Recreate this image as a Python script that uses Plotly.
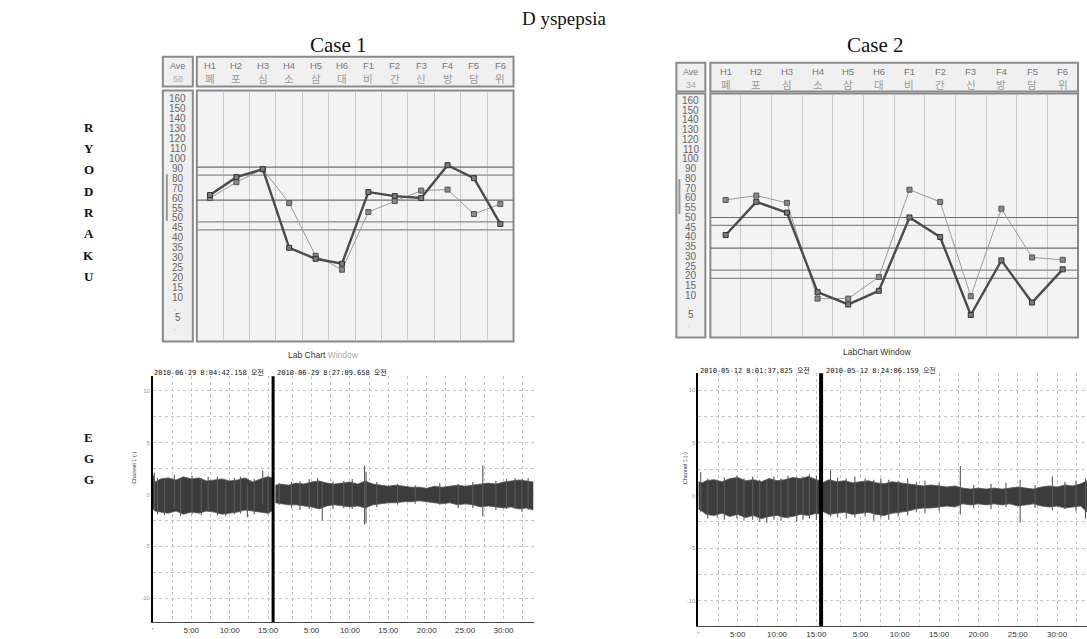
import numpy as np
import plotly.graph_objects as go

W, H = 1087, 639

# ---------------- data ----------------
MERIDIANS = ["H1", "H2", "H3", "H4", "H5", "H6", "F1", "F2", "F3", "F4", "F5", "F6"]
KOREAN = ["폐", "포", "심", "소", "삼", "대", "비", "간", "신", "방", "담", "위"]
SCALE_LABELS = [160, 150, 140, 130, 120, 110, 100, 90, 80, 70, 60, 55, 50, 45, 40, 35, 30, 25, 20, 15, 10, 5]
SCALE_POS = list(range(21)) + [22]

case1_ave = "58"
case1_dark = [63, 81, 89, 35, 29.5, 27, 66, 62, 60, 93, 80, 47]
case1_light = [60, 76, 89, 57.5, 31, 24, 53, 58.5, 67.5, 68.5, 52, 57]
case1_bands = [91, 83, 59, 48, 44]

case2_ave = "34"
case2_dark = [41, 58, 52.5, 11.7, 7.7, 12.4, 50, 40, 5, 28, 8.2, 23.4]
case2_light = [59, 62.5, 57.5, 9.2, 9.2, 19.5, 68.5, 58, 9.8, 54.5, 29.5, 28.3]
case2_bands = [50, 46, 34.3, 23, 18.8]

# EGG: first recording length (min) and envelopes
egg1_split = 15.65
egg1_stamps = ["2010-06-29 8:04:42.158 오전", "2010-06-29 8:27:09.658 오전"]
egg1_tL = [0, 0.3, 1, 2, 3, 4, 5, 6, 7, 8, 9, 10, 11, 12, 13, 14, 15, 15.5]
egg1_upL = [1.9, 1.2, 1.5, 1.6, 1.4, 1.7, 1.5, 1.6, 1.3, 1.4, 1.5, 1.3, 1.4, 1.6, 1.2, 1.5, 1.7, 1.6]
egg1_loL = [-1.4, -1.6, -1.7, -1.8, -1.6, -1.9, -1.7, -1.8, -1.6, -1.7, -1.9, -1.8, -1.7, -1.5, -1.6, -1.7, -1.8, -1.6]
egg1_tR = [0.3, 1, 2, 3, 4, 5, 6, 7, 8, 9, 10, 11, 12, 13, 14, 15, 16, 17, 18, 19, 20, 21, 22, 23, 24, 25, 26, 27, 28, 29, 30, 31, 32, 33, 33.9]
egg1_upR = [0.9, 1.0, 0.9, 1.1, 1.0, 1.2, 1.3, 1.1, 1.0, 1.1, 1.2, 1.0, 1.3, 1.0, 0.9, 0.8, 0.9, 0.8, 0.7, 0.7, 0.6, 0.8, 0.7, 0.8, 0.9, 0.8, 0.9, 1.0, 1.1, 1.0, 1.2, 1.3, 1.4, 1.3, 1.2]
egg1_loR = [-0.8, -0.9, -1.0, -1.0, -1.1, -1.2, -1.4, -1.1, -1.0, -1.1, -1.2, -1.1, -1.3, -1.0, -0.9, -0.8, -0.8, -0.7, -0.7, -0.6, -0.7, -0.8, -0.9, -0.8, -1.0, -0.9, -1.0, -1.2, -1.1, -1.2, -1.3, -1.2, -1.4, -1.3, -1.5]
# spikes: (segment, time within segment, low, high); segment 0 = first recording, 1 = second
egg1_spikes = [(0, 0.2, -1.5, 2.1), (0, 0.6, -1.9, 1.6), (0, 1.5, -2.0, 1.4), (0, 2.8, -1.3, 1.9),
               (0, 3.6, -2.1, 1.5), (0, 5.1, -1.9, 1.8), (0, 6.3, -2.0, 1.6), (0, 7.2, -1.7, 1.7),
               (0, 8.4, -2.0, 1.7), (0, 9.5, -2.1, 1.4), (0, 10.6, -1.9, 1.6), (0, 11.4, -1.8, 1.7),
               (0, 12.3, -2.2, 1.0), (0, 13.2, -1.9, 1.5), (0, 14.3, -1.0, 2.3), (0, 15.0, -1.9, 1.8),
               (1, 0.8, -1.0, 1.1), (1, 2.4, -1.3, 1.2), (1, 3.5, -1.5, 1.3), (1, 4.7, -1.4, 1.5),
               (1, 5.8, -1.2, 1.6), (1, 6.4, -2.5, 1.2), (1, 7.8, -1.4, 1.2), (1, 9.2, -1.3, 1.3),
               (1, 10.3, -1.4, 1.5), (1, 11.9, -2.9, 2.8), (1, 12.1, -2.8, 2.2), (1, 13.5, -1.2, 1.2),
               (1, 16.2, -1.0, 1.0), (1, 18.5, -0.9, 0.9), (1, 21.7, -1.0, 1.1), (1, 24.1, -1.3, 1.0),
               (1, 26.0, -1.3, 1.2), (1, 27.3, -2.1, 2.8), (1, 29.0, -1.5, 1.3), (1, 30.4, -1.4, 1.5),
               (1, 31.5, -1.4, 1.6), (1, 32.4, -1.7, 1.5), (1, 33.2, -1.5, 1.6)]

egg2_split = 15.6
egg2_stamps = ["2010-05-12 8:01:37.825 오전", "2010-05-12 8:24:06.159 오전"]
egg2_tL = [0, 0.5, 1, 2, 3, 4, 5, 6, 7, 8, 9, 10, 11, 12, 13, 14, 15, 15.5]
egg2_upL = [1.3, 1.2, 1.4, 1.5, 1.3, 1.6, 1.7, 1.4, 1.5, 1.3, 1.6, 1.4, 1.5, 1.7, 1.6, 1.8, 1.5, 1.4]
egg2_loL = [-1.3, -1.5, -1.8, -1.9, -1.7, -2.0, -1.8, -2.1, -1.9, -2.2, -2.0, -1.9, -2.1, -2.0, -1.8, -1.9, -1.7, -1.8]
egg2_tR = [0.2, 1, 2, 3, 4, 5, 6, 7, 8, 9, 10, 11, 12, 13, 14, 15, 16, 17, 18, 19, 20, 21, 22, 23, 24, 25, 26, 27, 28, 29, 30, 31, 32, 33, 33.8]
egg2_upR = [1.2, 1.5, 1.3, 1.4, 1.2, 1.3, 1.4, 1.2, 1.1, 1.3, 1.2, 1.1, 1.0, 0.9, 1.0, 0.9, 0.8, 0.9, 0.7, 0.6, 0.7, 0.6, 0.7, 0.6, 0.7, 0.8, 0.7, 0.6, 0.8, 0.9, 0.8, 1.0, 0.9, 1.1, 1.4]
egg2_loR = [-1.5, -1.8, -1.7, -1.6, -1.8, -1.7, -1.6, -1.8, -1.9, -1.7, -1.6, -1.5, -1.3, -1.2, -1.2, -1.1, -1.0, -1.1, -0.8, -0.9, -0.8, -0.9, -0.8, -0.9, -0.8, -1.0, -0.9, -0.8, -1.0, -1.1, -1.0, -1.2, -1.1, -1.0, -1.6]
egg2_spikes = [(0, 0.3, -1.6, 2.2), (0, 1.2, -2.2, 1.6), (0, 2.4, -2.1, 1.5), (0, 3.3, -2.3, 1.7),
               (0, 4.9, -2.2, 1.9), (0, 5.8, -2.4, 1.6), (0, 6.9, -2.3, 1.8), (0, 7.8, -2.5, 1.5),
               (0, 8.7, -2.6, 1.4), (0, 9.6, -2.3, 1.8), (0, 10.5, -2.4, 1.6), (0, 11.4, -2.2, 1.9),
               (0, 12.5, -2.5, 1.7), (0, 13.3, -2.3, 1.8), (0, 14.1, -2.2, 2.0), (0, 15.0, -2.3, 1.9),
               (1, 1.2, -2.0, 2.4), (1, 2.1, -2.1, 1.7), (1, 3.2, -2.2, 1.6), (1, 4.3, -2.1, 1.8),
               (1, 5.6, -2.0, 1.6), (1, 6.7, -2.4, 1.5), (1, 7.6, -2.1, 1.6), (1, 8.6, -2.3, 1.5),
               (1, 9.8, -2.0, 1.4), (1, 11.0, -1.9, 1.6), (1, 12.1, -1.6, 1.3), (1, 13.2, -1.7, 1.4),
               (1, 15.0, -1.5, 1.2), (1, 17.7, -1.8, 2.8), (1, 19.4, -1.2, 1.0), (1, 21.6, -1.3, 1.1),
               (1, 23.5, -1.1, 1.2), (1, 25.3, -2.6, 1.5), (1, 27.2, -1.2, 1.0), (1, 29.4, -1.4, 1.8),
               (1, 31.0, -1.3, 1.3), (1, 32.4, -1.5, 1.4), (1, 33.6, -2.2, 1.6)]


# ---------------- helpers ----------------
def ryo(vals):
    return [-float(np.interp(v, SCALE_LABELS[::-1], SCALE_POS[::-1])) for v in vals]


def px(x):
    return x / W


def py(y):
    return 1 - y / H


def ann(**kw):
    kw.setdefault("showarrow", False)
    kw.setdefault("xanchor", "center")
    kw.setdefault("yanchor", "middle")
    return dict(**kw)


fig = go.Figure()
shapes = []
annotations = []

SANS = "Liberation Sans"
SERIF = "Liberation Serif"

# ---------------- Ryodoraku panels ----------------
ryo_panels = [
    dict(ax="", ave=case1_ave, dark=case1_dark, light=case1_light, bands=case1_bands,
         ave_box=(162, 57, 192, 87), head=(196, 57, 513, 87), col=(162, 91, 192, 343),
         plot=(196, 91, 513, 343), yrange=[-24.4, 0.8], title_x=338, bar=(166, 175, 222)),
    dict(ax="2", ave=case2_ave, dark=case2_dark, light=case2_light, bands=case2_bands,
         ave_box=(676, 63, 705, 92), head=(710, 63, 1078, 92), col=(676, 94, 705, 339),
         plot=(710, 94, 1078, 339), yrange=[-24.3, 0.71], title_x=875, bar=(679, 180, 215)),
]

for i, p in enumerate(ryo_panels):
    xa, ya = "x" + p["ax"], "y" + p["ax"]
    x0, y0, x1, y1 = p["plot"]
    for box, fill in [(p["plot"], "#f3f3f3"), (p["head"], "#f0f0f0"), (p["ave_box"], "#f0f0f0"), (p["col"], "#f0f0f0")]:
        shapes.append(dict(type="rect", xref="paper", yref="paper", layer="below",
                           x0=px(box[0]), x1=px(box[2]), y0=py(box[3]), y1=py(box[1]),
                           fillcolor=fill, line=dict(color="#8a8a8a", width=2)))
    bx, by0, by1 = p["bar"]
    shapes.append(dict(type="line", xref="paper", yref="paper", x0=px(bx), x1=px(bx),
                       y0=py(by0), y1=py(by1), line=dict(color="#999", width=2)))
    for j, b in enumerate(p["bands"]):
        yy = ryo([b])[0]
        fig.add_trace(go.Scatter(x=[-0.5, 11.5], y=[yy, yy], mode="lines", xaxis=xa, yaxis=ya,
                                 line=dict(color="#6e6e6e" if j in (0, 2) else "#8a8a8a", width=1.2),
                                 showlegend=False, hoverinfo="skip"))
    fig.add_trace(go.Scatter(x=list(range(12)), y=ryo(p["light"]), mode="lines+markers", xaxis=xa, yaxis=ya,
                             line=dict(color="#9a9a9a", width=1),
                             marker=dict(symbol="square", size=5, color="#8a8a8a", line=dict(color="#555", width=1)),
                             showlegend=False))
    fig.add_trace(go.Scatter(x=list(range(12)), y=ryo(p["dark"]), mode="lines+markers", xaxis=xa, yaxis=ya,
                             line=dict(color="#4a4a4a", width=2.4),
                             marker=dict(symbol="square", size=5, color="#7a7a7a", line=dict(color="#333", width=1)),
                             showlegend=False))
    for k, (m, kr) in enumerate(zip(MERIDIANS, KOREAN)):
        annotations.append(ann(x=k, y=py(p["head"][1] + 9), xref=xa, yref="paper", text=m,
                               font=dict(family=SANS, size=9.5, color="#777")))
        annotations.append(ann(x=k, y=py(p["head"][1] + 22), xref=xa, yref="paper", text=kr,
                               font=dict(family="Noto Sans CJK KR", size=10.5, color="#999")))
    cx = (p["ave_box"][0] + p["ave_box"][2]) / 2
    annotations.append(ann(x=px(cx), y=py(p["ave_box"][1] + 9), xref="paper", yref="paper", text="Ave",
                           font=dict(family=SANS, size=9, color="#777")))
    annotations.append(ann(x=px(cx), y=py(p["ave_box"][1] + 22), xref="paper", yref="paper", text=p["ave"],
                           font=dict(family=SANS, size=9, color="#aaa")))
    ccx = (p["col"][0] + p["col"][2]) / 2
    for lab, pos in zip(SCALE_LABELS, SCALE_POS):
        annotations.append(ann(x=px(ccx), y=-pos, xref="paper", yref=ya, text=str(lab),
                               font=dict(family="Liberation Sans Narrow, " + SANS, size=10, color="#666")))
    for dpos in (21.2, 23.2):
        annotations.append(ann(x=px(ccx - 2), y=-dpos, xref="paper", yref=ya, text="·",
                               font=dict(family=SANS, size=8, color="#999")))
    annotations.append(ann(x=px(p["title_x"]), y=py(45), xref="paper", yref="paper", text="Case %d" % (i + 1),
                           font=dict(family=SERIF, size=21, color="#111")))
    fig.layout["xaxis" + p["ax"]] = dict(domain=[px(x0), px(x1)], range=[-0.5, 11.5],
                                         tickvals=[k + 0.5 for k in range(11)],
                                         showticklabels=False, ticks="", showgrid=True, gridcolor="#c9c9c9",
                                         gridwidth=1, zeroline=False, anchor=ya, fixedrange=True)
    fig.layout["yaxis" + p["ax"]] = dict(domain=[py(y1), py(y0)], range=p["yrange"], showgrid=False,
                                         showticklabels=False, zeroline=False, anchor=xa, fixedrange=True)

# ---------------- EGG panels ----------------
egg_panels = [
    dict(ax="3", split=egg1_split, stamps=egg1_stamps, tL=egg1_tL, upL=egg1_upL, loL=egg1_loL,
         tR=egg1_tR, upR=egg1_upR, loR=egg1_loR, spikes=egg1_spikes,
         plot=(152, 378, 533, 625), xend=49.55, yrange=[-12.3, 11.4],
         title="Lab Chart <span style='color:#aaa'>Window</span>",
         title_pos=(323, 357), stamp_y=374, stamp_x=(208, 331), ch_x=133, div_w=3),
    dict(ax="4", split=egg2_split, stamps=egg2_stamps, tL=egg2_tL, upL=egg2_upL, loL=egg2_loL,
         tR=egg2_tR, upR=egg2_upR, loR=egg2_loR, spikes=egg2_spikes,
         plot=(698, 375, 1087, 629), xend=49.4, yrange=[-12.4, 11.6], title="LabChart Window",
         title_pos=(877, 354), stamp_y=372, stamp_x=(755, 881), ch_x=684, div_w=4),
]

for p in egg_panels:
    xa, ya = "x" + p["ax"], "y" + p["ax"]
    s = p["split"]
    for t, up, lo, off in [(p["tL"], p["upL"], p["loL"], 0.0), (p["tR"], p["upR"], p["loR"], s)]:
        tt = [v + off for v in t]
        fig.add_trace(go.Scatter(x=tt, y=lo, mode="lines", xaxis=xa, yaxis=ya,
                                 line=dict(color="#555", width=0.8), showlegend=False, hoverinfo="skip"))
        fig.add_trace(go.Scatter(x=tt, y=up, mode="lines", xaxis=xa, yaxis=ya, fill="tonexty",
                                 fillcolor="#3c3c3c", line=dict(color="#555", width=0.8),
                                 showlegend=False, hoverinfo="skip"))
    sx, sy = [], []
    for seg, t, lo, hi in p["spikes"]:
        tt = t + (s if seg == 1 else 0)
        sx += [tt, tt, None]
        sy += [lo, hi, None]
    fig.add_trace(go.Scatter(x=sx, y=sy, mode="lines", xaxis=xa, yaxis=ya,
                             line=dict(color="#5a5a5a", width=1.1), showlegend=False, hoverinfo="skip"))
    shapes.append(dict(type="line", xref=xa, yref=ya + " domain", x0=s, x1=s, y0=0, y1=1.0,
                       line=dict(color="#000", width=p["div_w"])))
    tv, tt_ = [], []
    for k in range(7):
        tv.append(2.5 * k)
        tt_.append({0: "'", 2: "5:00", 4: "10:00", 6: "15:00"}.get(k, ""))
    for k in range(1, 14):
        v = s + 2.5 * k
        if v <= p["xend"]:
            tv.append(v)
            tt_.append("%d:00" % (2.5 * k) if k % 2 == 0 else "")
    x0, y0, x1, y1 = p["plot"]
    fig.layout["xaxis" + p["ax"]] = dict(domain=[px(x0), px(x1)], range=[0, p["xend"]], tickvals=tv, ticktext=tt_,
                                         showgrid=True, gridcolor="#c4c4c4", griddash="3px,3px", gridwidth=1,
                                         showline=True, linecolor="#444", linewidth=1, ticks="",
                                         tickfont=dict(family=SANS, size=8, color="#333"),
                                         zeroline=False, anchor=ya, fixedrange=True)
    fig.layout["yaxis" + p["ax"]] = dict(domain=[py(y1), py(y0)], range=p["yrange"],
                                         tickvals=[-10, -7.5, -5, -2.5, 0, 2.5, 5, 7.5, 10],
                                         ticktext=["-10", "", "-5", "", "0", "", "5", "", "10"],
                                         showgrid=True, gridcolor="#c4c4c4", griddash="3px,3px", gridwidth=1,
                                         showline=True, linecolor="#000", linewidth=1.5, ticks="",
                                         tickfont=dict(family=SANS, size=6, color="#999"),
                                         zeroline=False, anchor=xa, fixedrange=True)
    annotations.append(ann(x=px(p["title_pos"][0]), y=py(p["title_pos"][1]), xref="paper", yref="paper",
                           text=p["title"], font=dict(family=SANS, size=8.5, color="#333")))
    for sxp, st in zip(p["stamp_x"], p["stamps"]):
        annotations.append(ann(x=px(sxp), y=py(p["stamp_y"]), xref="paper", yref="paper", text=st,
                               font=dict(family="DejaVu Sans Mono, Noto Sans CJK KR", size=7, color="#111")))
    annotations.append(ann(x=px(p["ch_x"]), y=py(470), xref="paper", yref="paper", text="Channel 1 (-)",
                           textangle=-90, font=dict(family=SANS, size=5.5, color="#333")))

# ---------------- global text ----------------
annotations.append(ann(x=px(564), y=py(19), xref="paper", yref="paper", text="D yspepsia",
                       font=dict(family=SERIF, size=19, color="#111")))
for n, ch in enumerate("RYODRAKU"):
    annotations.append(ann(x=px(88), y=py(128 + 21.4 * n), xref="paper", yref="paper", text="<b>%s</b>" % ch,
                           font=dict(family=SERIF, size=13, color="#111")))
for n, ch in enumerate("EGG"):
    annotations.append(ann(x=px(88), y=py(440 + 21 * n), xref="paper", yref="paper", text="<b>%s</b>" % ch,
                           font=dict(family=SERIF, size=13, color="#111")))

fig.update_layout(width=W, height=H, margin=dict(l=0, r=0, t=0, b=0), paper_bgcolor="white",
                  plot_bgcolor="rgba(0,0,0,0)", shapes=shapes, annotations=annotations, showlegend=False)

fig.write_html("out.html", config={"displayModeBar": False},
               post_script="document.body.style.margin='0';document.body.style.overflow='hidden';")
